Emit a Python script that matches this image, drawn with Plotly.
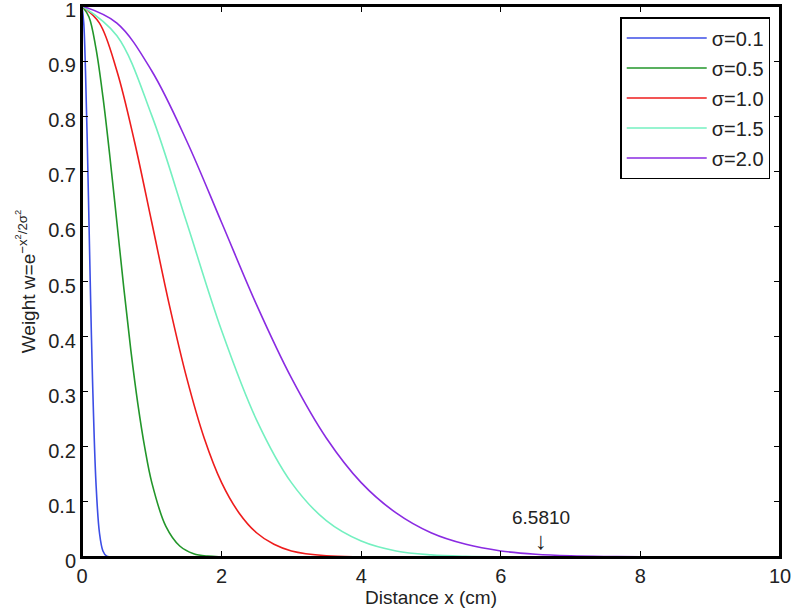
import plotly.graph_objects as go

# values
x_s01 = [0, 0.025, 0.05, 0.075, 0.1, 0.125, 0.15, 0.2, 0.25, 0.3, 0.35, 0.5, 1, 10]
w_s01 = [1, 0.969, 0.882, 0.755, 0.607, 0.458, 0.325, 0.135, 0.044, 0.011, 0.002, 0, 0, 0]

x_s05 = [0, 0.1, 0.2, 0.3, 0.4, 0.5, 0.6, 0.7, 0.8, 0.9, 1.0, 1.2, 1.4, 1.6, 1.8, 2.0, 2.5, 10]
w_s05 = [1, 0.980, 0.923, 0.835, 0.726, 0.607, 0.487, 0.375, 0.278, 0.198, 0.135,
         0.056, 0.020, 0.006, 0.0015, 0.0003, 0, 0]

x_s10 = [0, 0.25, 0.5, 0.75, 1, 1.25, 1.5, 1.75, 2, 2.25, 2.5, 2.75, 3, 3.5, 4, 4.5, 5, 10]
w_s10 = [1, 0.969, 0.882, 0.755, 0.607, 0.458, 0.325, 0.216, 0.135, 0.080, 0.044,
         0.023, 0.011, 0.0022, 0.0003, 0, 0, 0]

x_s15 = [0, 0.5, 1, 1.5, 2, 2.5, 3, 3.5, 4, 4.5, 5, 5.5, 6, 7, 8, 10]
w_s15 = [1, 0.946, 0.801, 0.607, 0.411, 0.249, 0.135, 0.066, 0.029, 0.011, 0.0039,
         0.0012, 0.0003, 0, 0, 0]

x_s20 = [0, 0.5, 1, 1.5, 2, 2.5, 3, 3.5, 4, 4.5, 5, 5.5, 6, 6.5, 7, 7.5, 8, 9, 10]
w_s20 = [1, 0.969, 0.882, 0.755, 0.607, 0.458, 0.325, 0.216, 0.135, 0.080, 0.044,
         0.023, 0.011, 0.0051, 0.0022, 0.0009, 0.0003, 0, 0]

labels = ["σ=0.1", "σ=0.5", "σ=1.0", "σ=1.5", "σ=2.0"]
colors = ["#3c4ee6", "#22962a", "#ee1c1c", "#74f0c0", "#8a2be2"]

marked_x = 6.5810

series = [(x_s01, w_s01), (x_s05, w_s05), (x_s10, w_s10), (x_s15, w_s15), (x_s20, w_s20)]

fig = go.Figure()
for i, (xs, ws) in enumerate(series):
    fig.add_trace(go.Scatter(x=xs, y=ws, mode="lines", name=labels[i],
                             legendgroup=labels[i],
                             line=dict(color=colors[i], width=1.6, shape="spline", smoothing=1)))

fig.add_annotation(x=marked_x, y=0.002,
                   text="6.5810<br><span style='font-size:24px'>↓</span>",
                   showarrow=False, yanchor="bottom", xanchor="center",
                   font=dict(size=19, color="#222222"))

# black frame around the plot area, like matlab's box on
fig.add_shape(type="rect", xref="paper", yref="paper", x0=0, y0=0, x1=1, y1=1,
              line=dict(color="black", width=2), layer="above")

axis_style = dict(showline=True, linecolor="black", linewidth=2, mirror="ticks",
                  ticks="inside", ticklen=6, tickcolor="black", showgrid=False,
                  zeroline=False, automargin=False, ticklabeloverflow="allow",
                  tickfont=dict(size=20, color="#222222"))

fig.update_layout(
    width=793, height=614,
    margin=dict(l=82, r=13, t=6, b=57),
    paper_bgcolor="white", plot_bgcolor="white",
    font=dict(family="Liberation Sans, Arial, sans-serif", color="#222222"),
    legend=dict(x=0.986, y=0.98, xanchor="right", yanchor="top",
                bordercolor="black", borderwidth=1.5, bgcolor="white",
                font=dict(size=20), tracegroupgap=1, traceorder="grouped",
                itemwidth=80),
    showlegend=True,
)
fig.update_xaxes(range=[0, 10], tickvals=[0, 2, 4, 6, 8, 10],
                 title=dict(text="Distance x (cm)", font=dict(size=19), standoff=2),
                 **axis_style)
fig.update_yaxes(range=[0, 1], tickvals=[0, 0.1, 0.2, 0.3, 0.4, 0.5, 0.6, 0.7, 0.8, 0.9, 1],
                 ticktext=["0", "0.1", "0.2", "0.3", "0.4", "0.5", "0.6", "0.7", "0.8", "0.9", "1"],
                 ticklabelshift=4,
                 title=dict(text="Weight w=e<sup>−x<sup>2</sup>/2σ<sup>2</sup></sup>",
                            font=dict(size=19), standoff=8),
                 **axis_style)

fig.write_html("out.html", config={"displayModeBar": False},
               post_script="document.body.style.margin='0px';")
